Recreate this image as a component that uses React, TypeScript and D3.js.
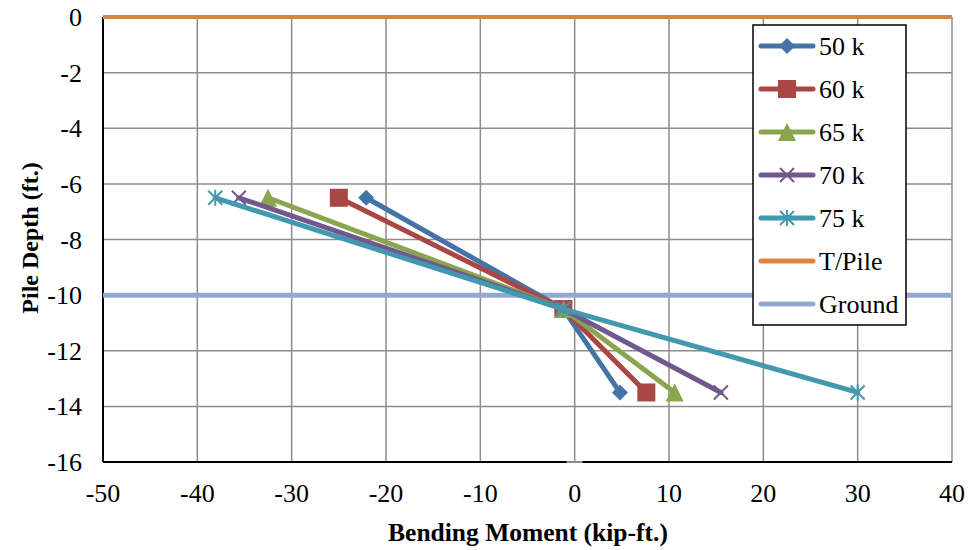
import * as d3 from "d3";

const depths = [-6.5, -10.5, -13.5];
const seriesNames = ["50 k", "60 k", "65 k", "70 k", "75 k"];
const m50 = [-22.1, -1.2, 4.8];
const m60 = [-25.0, -1.2, 7.6];
const m65 = [-32.5, -1.2, 10.6];
const m70 = [-35.6, -1.2, 15.5];
const m75 = [-38.1, -1.2, 30.0];
const seriesColors = ["#4572A7", "#AA4643", "#89A54E", "#71588F", "#4198AF"];
const markers = ["diamond", "square", "triangle", "x", "star"];
const tPileDepth = 0;
const groundDepth = -10;
const xTicks = [-50, -40, -30, -20, -10, 0, 10, 20, 30, 40];
const yTicks = [0, -2, -4, -6, -8, -10, -12, -14, -16];

const W = 971;
const H = 550;
const margin = { top: 17, right: 19, bottom: 88, left: 103 };
const FONT = "Liberation Serif";

function Marker({ kind, cx, cy, color }: { kind: string; cx: number; cy: number; color: string }) {
  if (kind === "diamond") {
    const r = 8;
    return <path d={`M${cx},${cy - r}L${cx + r},${cy}L${cx},${cy + r}L${cx - r},${cy}Z`} fill={color} />;
  }
  if (kind === "square") {
    const r = 9;
    return <rect x={cx - r} y={cy - r} width={2 * r} height={2 * r} fill={color} />;
  }
  if (kind === "triangle") {
    const r = 9;
    return <path d={`M${cx},${cy - r}L${cx + r},${cy + r}L${cx - r},${cy + r}Z`} fill={color} />;
  }
  const r = 7;
  const lines = [
    [cx - r, cy - r, cx + r, cy + r],
    [cx - r, cy + r, cx + r, cy - r],
  ];
  if (kind === "star") lines.push([cx, cy - r - 1, cx, cy + r + 1]);
  return (
    <g stroke={color} strokeWidth={2}>
      {lines.map((l, i) => (
        <line key={i} x1={l[0]} y1={l[1]} x2={l[2]} y2={l[3]} />
      ))}
    </g>
  );
}

export default function App() {
  const innerW = W - margin.left - margin.right;
  const innerH = H - margin.top - margin.bottom;
  const x = d3.scaleLinear().domain([-50, 40]).range([0, innerW]);
  const y = d3.scaleLinear().domain([0, -16]).range([0, innerH]);
  const allSeries = [m50, m60, m65, m70, m75];
  const line = d3
    .line<[number, number]>()
    .x((d) => x(d[0]))
    .y((d) => y(d[1]));

  const legendItems = [
    ...seriesNames.map((n, i) => ({ name: n, color: seriesColors[i], marker: markers[i] })),
    { name: "T/Pile", color: "#DB843D", marker: "" },
    { name: "Ground", color: "#93A9CF", marker: "" },
  ];

  return (
    <svg width={W} height={H} style={{ position: "absolute", left: 0, top: 0, background: "#fff" }}>
      <g transform={`translate(${margin.left},${margin.top})`}>
        {/* gridlines */}
        {xTicks.map((t) => (
          <line key={`gx${t}`} x1={x(t)} x2={x(t)} y1={0} y2={innerH} stroke="#8c8c8c" strokeWidth={1.5} />
        ))}
        {yTicks.map((t) => (
          <line key={`gy${t}`} x1={0} x2={innerW} y1={y(t)} y2={y(t)} stroke="#8c8c8c" strokeWidth={1.5} />
        ))}
        {/* axes */}
        <line x1={0} x2={0} y1={0} y2={innerH} stroke="#000" strokeWidth={2} />
        <line x1={0} x2={innerW} y1={innerH} y2={innerH} stroke="#000" strokeWidth={2} />
        <line x1={x(0) - 8} x2={x(0) + 8} y1={innerH} y2={innerH} stroke="#8c8c8c" strokeWidth={2} />

        {/* reference lines */}
        <line x1={0} x2={innerW} y1={y(groundDepth)} y2={y(groundDepth)} stroke="#93A9CF" strokeWidth={5} />

        {allSeries.map((vals, i) => {
          const pts = vals.map((v, j) => [v, depths[j]] as [number, number]);
          return (
            <g key={i}>
              <path d={line(pts) ?? ""} fill="none" stroke={seriesColors[i]} strokeWidth={5} strokeLinejoin="round" strokeLinecap="round" />
              {pts.map((p, j) => (
                <Marker key={j} kind={markers[i]} cx={x(p[0])} cy={y(p[1])} color={seriesColors[i]} />
              ))}
            </g>
          );
        })}
        <line x1={0} x2={innerW} y1={y(tPileDepth)} y2={y(tPileDepth)} stroke="#DB843D" strokeWidth={4} />

        {/* tick labels */}
        {xTicks.map((t) => (
          <text key={`xt${t}`} x={x(t)} y={innerH + 40} textAnchor="middle" fontSize={26} fontFamily={FONT}>
            {t}
          </text>
        ))}
        {yTicks.map((t) => (
          <text key={`yt${t}`} x={-21} y={y(t) + 9} textAnchor="end" fontSize={26} fontFamily={FONT}>
            {t}
          </text>
        ))}

        {/* legend */}
        <g transform={`translate(${650},${8})`}>
          <rect x={0} y={0} width={153} height={300} fill="#fff" stroke="#000" strokeWidth={1.5} />
          {legendItems.map((it, i) => {
            const cy = 21 + i * 43;
            return (
              <g key={it.name}>
                <line x1={8} x2={60} y1={cy} y2={cy} stroke={it.color} strokeWidth={5} strokeLinecap="round" />
                {it.marker && <Marker kind={it.marker} cx={34} cy={cy} color={it.color} />}
                <text x={66} y={cy + 9} fontSize={26} fontFamily={FONT}>
                  {it.name}
                </text>
              </g>
            );
          })}
        </g>
      </g>

      <text x={528} y={541} textAnchor="middle" fontSize={25.5} fontWeight="bold" fontFamily={FONT}>
        Bending Moment (kip-ft.)
      </text>
      <text
        transform={`translate(38,238) rotate(-90)`}
        textAnchor="middle"
        fontSize={24}
        fontWeight="bold"
        fontFamily={FONT}
      >
        Pile Depth (ft.)
      </text>
    </svg>
  );
}
